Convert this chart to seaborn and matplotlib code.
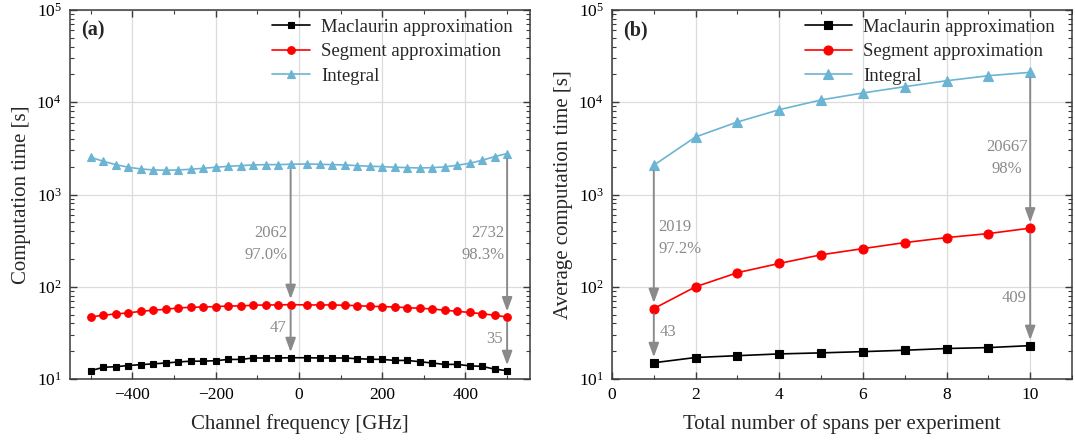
import numpy as np
import pandas as pd
import matplotlib
matplotlib.use("Agg")
import matplotlib.pyplot as plt
import matplotlib.transforms as mtransforms
import seaborn as sns
from matplotlib.ticker import LogLocator, NullFormatter, MultipleLocator, LogFormatterSciNotation

# ---------------- data ----------------
freq_ghz = [-500, -470, -440, -410, -380, -350, -320, -290, -260, -230, -200, -170,
            -140, -110, -80, -50, -20, 20, 50, 80, 110, 140, 170, 200, 230, 260,
            290, 320, 350, 380, 410, 440, 470, 500]
maclaurin_a = [12.3, 13.4, 13.6, 14.0, 14.3, 14.6, 14.9, 15.3, 15.6, 15.6, 15.8, 16.3,
               16.3, 16.9, 16.9, 16.9, 17.0, 17.0, 16.9, 16.9, 16.9, 16.6, 16.4, 16.3,
               15.9, 15.9, 15.4, 14.9, 14.4, 14.4, 13.9, 13.7, 12.8, 12.3]
segment_a = [47.1, 49.1, 50.8, 52.0, 54.2, 55.6, 57.0, 58.9, 59.9, 60.4, 60.9, 61.9,
             61.9, 63.0, 63.5, 63.5, 64.0, 63.5, 63.5, 63.5, 63.0, 62.4, 61.4, 60.9,
             60.4, 59.3, 58.4, 57.5, 55.6, 54.2, 52.6, 51.0, 49.1, 47.0]
integral_a = [2530, 2290, 2108, 1974, 1893, 1846, 1831, 1846, 1877, 1924, 1974, 2022,
              2056, 2091, 2108, 2108, 2126, 2144, 2126, 2108, 2091, 2056, 2022, 2006,
              1974, 1956, 1940, 1956, 1990, 2074, 2180, 2350, 2573, 2779]

spans = [1, 2, 3, 4, 5, 6, 7, 8, 9, 10]
maclaurin_b = [15, 17.1, 17.9, 18.7, 19.2, 19.8, 20.5, 21.4, 21.9, 23]
segment_b = [58, 100, 142, 179, 222, 259, 301, 341, 377, 432]
integral_b = [2077, 4210, 6110, 8300, 10600, 12600, 14750, 17100, 19400, 21099]

series_names = ["Maclaurin approximation", "Segment approximation", "Integral"]
series_colors = ["#000000", "#ff0000", "#6cb4d4"]
series_markers = ["s", "o", "^"]

ann_x_a = [-20, 500]
ann_top_a = ["2062\n97.0%", "2732\n98.3%"]
ann_bot_a = ["47", "35"]
ann_x_b = [1, 10]
ann_top_b = ["2019\n97.2%", "20667\n98%"]
ann_bot_b = ["43", "409"]

# ---------------- style ----------------
sns.set_theme(style="ticks")
plt.rcParams.update({
    "font.family": ["Liberation Serif", "DejaVu Serif"],
    "mathtext.fontset": "custom",
    "mathtext.rm": "Liberation Serif",
    "mathtext.it": "Liberation Serif:italic",
    "mathtext.bf": "Liberation Serif:bold",
    "axes.edgecolor": "#3a3a3a",
    "axes.linewidth": 1.1,
    "xtick.color": "#3a3a3a",
    "ytick.color": "#3a3a3a",
    "xtick.labelcolor": "black",
    "ytick.labelcolor": "black",
})

fig = plt.figure(figsize=(10.75, 4.41), dpi=100)
ax_a = fig.add_axes([70 / 1075, 62 / 441, 460 / 1075, 369 / 441])
ax_b = fig.add_axes([612 / 1075, 62 / 441, 460 / 1075, 369 / 441])

ann_color = "#8a8a8a"


def draw_panel(ax, x, ys, msizes, hlen):
    for y, name, c, m, ms in zip(ys, series_names, series_colors, series_markers, msizes):
        df = pd.DataFrame({"x": x, "y": y})
        sns.lineplot(data=df, x="x", y="y", ax=ax, color=c, marker=m, markersize=ms,
                     markeredgecolor=c, markeredgewidth=0.8, linewidth=1.2, label=name)
    ax.set_yscale("log")
    ax.set_ylim(10, 1e5)
    ax.yaxis.set_major_locator(LogLocator(base=10, numticks=10))
    ax.yaxis.set_minor_locator(LogLocator(base=10, subs=np.arange(2, 10), numticks=10))
    ax.yaxis.set_major_formatter(LogFormatterSciNotation())
    ax.yaxis.set_minor_formatter(NullFormatter())
    ax.grid(True, which="major", color="#dcdcdc", linewidth=0.9)
    ax.set_axisbelow(True)
    ax.tick_params(which="both", direction="in", top=True, right=True)
    ax.tick_params(which="major", length=5, width=1.0, labelsize=12.5, pad=6)
    ax.tick_params(which="minor", length=3, width=0.8)
    for s in ax.spines.values():
        s.set_visible(True)
    leg = ax.legend(loc="upper right", bbox_to_anchor=(0.981, 1.0), frameon=False,
                    fontsize=13.5, handlelength=hlen, handletextpad=0.6,
                    labelspacing=0.4, borderaxespad=0.25, borderpad=0.2)
    return leg


def arrow(ax, x, y0, y1):
    ax.annotate("", xy=(x, y1), xytext=(x, y0),
                arrowprops=dict(arrowstyle="-|>,head_length=0.6,head_width=0.22",
                                color=ann_color, lw=1.4, mutation_scale=14,
                                shrinkA=4, shrinkB=4))


def note(ax, x, yfrac, txt, dx, ha, ma="right"):
    tr = mtransforms.blended_transform_factory(ax.transData, ax.transAxes)
    off = mtransforms.offset_copy(tr, fig=fig, x=dx, y=0, units="points")
    ax.text(x, yfrac, txt, transform=off, ha=ha, va="center", color=ann_color,
            fontsize=12, linespacing=1.5, multialignment=ma)


# ---------------- panel (a) ----------------
draw_panel(ax_a, freq_ghz, [maclaurin_a, segment_a, integral_a], [4.5, 5.5, 6.0], 2.0)
ax_a.set_xlim(-550, 555)
ax_a.xaxis.set_minor_locator(MultipleLocator(100))
ax_a.set_xticks([-400, -200, 0, 200, 400])
ax_a.set_xlabel("Channel frequency [GHz]", fontsize=15, labelpad=8)
ax_a.set_ylabel("Computation time [s]", fontsize=15, labelpad=4)
ax_a.text(0.025, 0.972, "(a)", transform=ax_a.transAxes, fontsize=14.5,
          fontweight="bold", va="top", ha="left")

bot_y_a = [0.138, 0.108]
for xv, t_top, t_bot, by in zip(ann_x_a, ann_top_a, ann_bot_a, bot_y_a):
    i = freq_ghz.index(xv)
    arrow(ax_a, xv, integral_a[i], segment_a[i])
    arrow(ax_a, xv, segment_a[i], maclaurin_a[i])
    note(ax_a, xv, 0.366, t_top, -2, "right")
    note(ax_a, xv, by, t_bot, -3, "right")

# ---------------- panel (b) ----------------
draw_panel(ax_b, spans, [maclaurin_b, segment_b, integral_b], [5.5, 6.5, 6.5], 2.5)
ax_b.set_xlim(0, 11)
ax_b.xaxis.set_major_locator(MultipleLocator(2))
ax_b.xaxis.set_minor_locator(MultipleLocator(1))
ax_b.set_xlabel("Total number of spans per experiment", fontsize=15, labelpad=8)
ax_b.set_ylabel("Average computation time [s]", fontsize=15, labelpad=4)
ax_b.text(0.025, 0.972, "(b)", transform=ax_b.transAxes, fontsize=14.5,
          fontweight="bold", va="top", ha="left")

for xv in ann_x_b:
    i = spans.index(xv)
    arrow(ax_b, xv, integral_b[i], segment_b[i])
    arrow(ax_b, xv, segment_b[i], maclaurin_b[i])
note(ax_b, ann_x_b[0], 0.383, ann_top_b[0], 3.5, "left", "left")
note(ax_b, ann_x_b[0], 0.127, ann_bot_b[0], 4.5, "left", "left")
note(ax_b, ann_x_b[1], 0.600, ann_top_b[1], -2, "right", "center")
note(ax_b, ann_x_b[1], 0.220, ann_bot_b[1], -3, "right")

fig.savefig("out.png", dpi=100)
